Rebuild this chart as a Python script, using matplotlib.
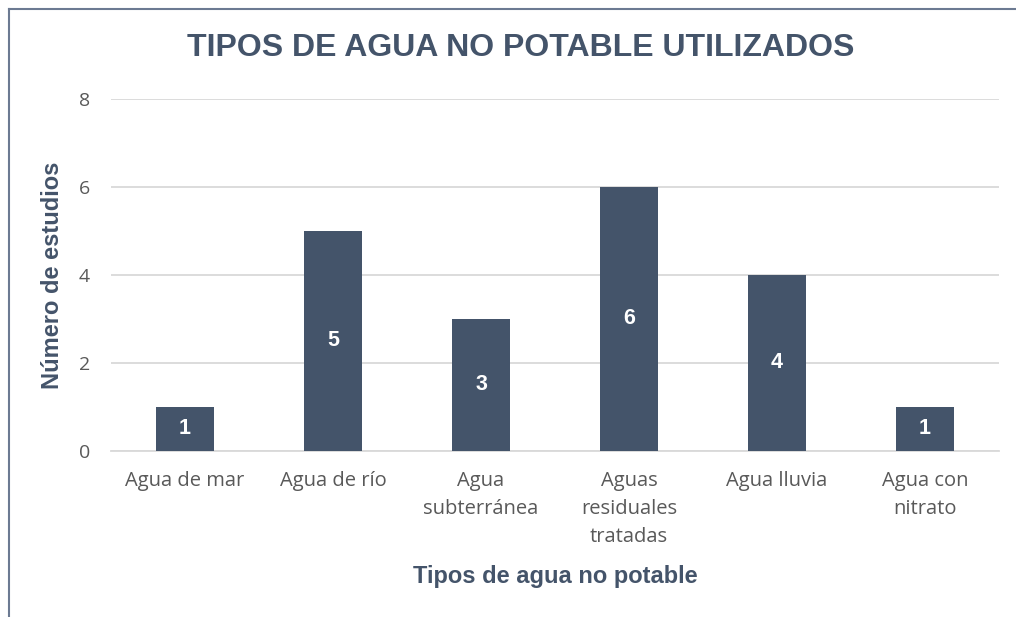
import matplotlib.pyplot as plt
from matplotlib.lines import Line2D

categorias = ['Agua de mar', 'Agua de río', 'Agua\nsubterránea',
              'Aguas\nresiduales\ntratadas', 'Agua lluvia', 'Agua con\nnitrato']
estudios = [1, 5, 3, 6, 4, 1]
yticks = [0, 2, 4, 6, 8]

color_barra = '#44546A'
color_texto = '#595959'
color_grid = '#D9D9D9'

fig = plt.figure(figsize=(10.16, 6.17), dpi=100)
ax = fig.add_axes([111/1016, 1 - 451/617, 888/1016, 352/617])

x = range(len(categorias))
barras = ax.bar(x, estudios, width=0.39, color=color_barra, zorder=3)
ax.bar_label(barras, label_type='center', color='white', fontsize=15.5,
             fontweight='bold', family='Liberation Sans')

ax.set_xlim(-0.5, 5.5)
ax.set_ylim(0, 8)
ax.set_yticks(yticks)
ax.set_yticklabels([str(v) for v in yticks], fontsize=14, color=color_texto,
                   family='Open Sans')
ax.set_xticks(list(x))
ax.set_xticklabels(categorias, fontsize=14.5, color=color_texto, family='Open Sans',
                   linespacing=1.53, va='top')
ax.tick_params(length=0)
ax.tick_params(axis='x', pad=14.5)
ax.tick_params(axis='y', pad=15)

ax.grid(axis='y', color=color_grid, linewidth=1.3, zorder=0)
for lado in ['top', 'right', 'left']:
    ax.spines[lado].set_visible(False)
ax.spines['bottom'].set_color(color_grid)
ax.spines['bottom'].set_linewidth(1.3)

ax.set_ylabel('Número de estudios', fontsize=17, fontweight='bold',
              color=color_barra, family='Liberation Sans', labelpad=11)
ax.set_xlabel('Tipos de agua no potable', fontsize=17, fontweight='bold',
              color=color_barra, family='Liberation Sans', labelpad=13)

fig.text(521/1016, 1 - 48/617, 'TIPOS DE AGUA NO POTABLE UTILIZADOS', ha='center',
         va='center', fontsize=23, fontweight='bold', color=color_barra,
         family='Liberation Sans')

# marco parcial del gráfico
fig.add_artist(Line2D([8.5/1016, 8.5/1016], [0, 1 - 9/617], color='#6C7A92', lw=1.5))
fig.add_artist(Line2D([8.5/1016, 1], [1 - 9/617, 1 - 9/617], color='#6C7A92', lw=1.5))

fig.savefig('out.png', dpi=100)
